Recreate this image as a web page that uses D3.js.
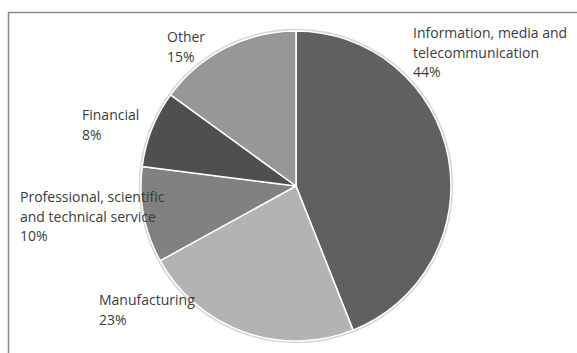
<!DOCTYPE html>
<html>
<head>
<meta charset="utf-8">
<script src="https://cdn.jsdelivr.net/npm/d3@7"></script>
<style>
  body { margin: 0; background: #fff; }
  text { font-family: "Open Sans", sans-serif; fill: #3c3c3c; }
</style>
</head>
<body>
<svg id="chart" width="577" height="353"></svg>
<script>
// sectors, clockwise from 12 o'clock
var categories = ["Information, media and telecommunication", "Manufacturing",
    "Professional, scientific and technical service", "Financial", "Other"];
var shares = [44, 23, 10, 8, 15];
var fills = ["#606060", "#b3b3b3", "#818181", "#4f4f4f", "#979797"];
// label text broken into lines like the original
var labelLines = [
    ["Information, media and", "telecommunication"],
    ["Manufacturing"],
    ["Professional, scientific", "and technical service"],
    ["Financial"],
    ["Other"]
];
// where each label block starts (left, first baseline)
var labelPos = [[413, 38], [99, 305], [20, 202], [82, 120], [167, 42]];

var svg = d3.select("#chart");
var cx = 296, cy = 186, radius = 155;

// chart area frame (only top and left edges are in view)
svg.append("rect")
    .attr("x", 8.5).attr("y", 12.5)
    .attr("width", 700).attr("height", 500)
    .attr("fill", "none")
    .attr("stroke", "#8a8a8a")
    .attr("stroke-width", 1.5);

var data = categories.map(function (c, i) {
    return { name: c, value: shares[i], fill: fills[i], lines: labelLines[i], pos: labelPos[i] };
});

var pie = d3.pie().sort(null).value(function (d) { return d.value; });
var arc = d3.arc().innerRadius(0).outerRadius(radius);

var g = svg.append("g").attr("transform", "translate(" + cx + "," + cy + ")");

// soft outline around the pie
g.append("circle")
    .attr("r", radius + 1)
    .attr("fill", "none")
    .attr("stroke", "#d6d6d6")
    .attr("stroke-width", 2.5);

g.selectAll("path.slice")
    .data(pie(data))
    .enter().append("path")
    .attr("class", "slice")
    .attr("d", arc)
    .attr("fill", function (d) { return d.data.fill; })
    .attr("stroke", "#ffffff")
    .attr("stroke-width", 1.5)
    .attr("stroke-linejoin", "round");

var labels = svg.selectAll("text.lbl")
    .data(data)
    .enter().append("text")
    .attr("class", "lbl")
    .attr("x", function (d) { return d.pos[0]; })
    .attr("y", function (d) { return d.pos[1]; })
    .style("font-size", "14px");

labels.each(function (d) {
    var t = d3.select(this);
    d.lines.concat([d.value + "%"]).forEach(function (line, i) {
        t.append("tspan")
            .attr("x", d.pos[0])
            .attr("dy", i === 0 ? 0 : 19.5)
            .text(line);
    });
});
</script>
</body>
</html>
